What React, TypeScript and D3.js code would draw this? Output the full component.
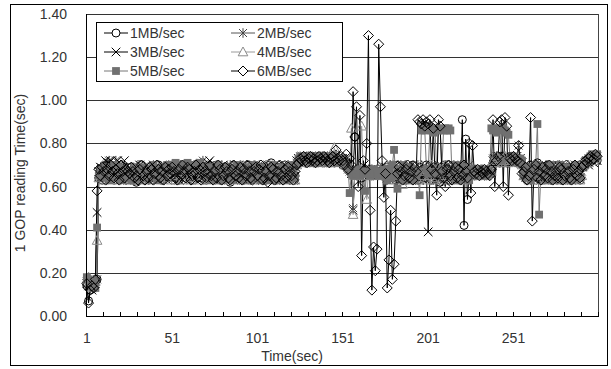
import * as d3 from 'd3'

const W = 611, H = 369
const M = { left: 86, right: 598, top: 14, bottom: 316 }

// time categories 1..300 (x axis)
const times = d3.range(1, 301)
const xLabels = [1, 51, 101, 151, 201, 251]
const yTicks = [0, 0.2, 0.4, 0.6, 0.8, 1.0, 1.2, 1.4]

// GOP reading time per second, in 1/100 sec
const mb1 = [
  14,7,12,15,13,16,17,64,68,63,69,66,67,70,65,68,63,69,67,64,70,66,68,63,67,
  66,69,64,63,62,67,68,70,65,63,68,66,69,67,64,65,68,70,66,63,67,69,65,64,67,
  68,65,69,67,63,66,70,68,64,67,69,65,63,68,66,70,67,64,66,68,63,65,69,67,64,
  67,70,65,63,68,66,69,67,64,62,67,70,66,68,64,69,67,63,65,68,70,66,64,67,65,
  67,64,69,66,63,68,65,70,71,64,67,63,69,66,68,64,70,65,67,63,68,69,65,70,72,
  73,72,74,71,73,72,74,73,71,72,74,73,72,71,73,74,72,73,71,72,74,73,72,71,73,
  70,72,71,69,68,66,67,83,65,66,67,64,66,65,67,66,68,66,65,67,66,68,66,67,65,
  66,69,64,68,65,67,63,70,64,68,66,69,63,67,65,64,70,67,66,63,69,65,68,64,70,
  65,68,63,69,66,67,64,62,69,65,68,66,70,63,67,64,69,68,65,63,91,42,82,54,66,
  67,66,68,65,67,66,68,67,66,65,67,66,68,71,72,73,72,71,74,73,72,71,73,72,74,
  73,72,71,73,72,70,66,69,63,65,70,64,68,66,71,64,69,63,67,65,70,68,63,66,69,
  66,70,67,63,65,68,69,64,63,68,66,70,67,64,63,69,69,70,72,71,73,72,74,73,72,
]
const mb2 = [
  16,15,13,14,15,16,17,66,69,64,67,70,71,72,69,68,64,72,70,68,65,67,69,63,66,
  67,64,69,68,63,65,70,67,64,69,68,63,66,67,70,64,68,65,69,67,63,66,68,70,65,
  69,67,64,63,68,70,65,67,64,69,68,63,66,70,67,64,68,71,72,69,67,64,70,67,65,
  67,64,70,68,63,65,69,64,67,70,66,63,68,65,69,70,67,64,69,68,65,63,67,70,64,
  67,70,65,63,68,64,69,67,65,68,70,64,67,63,69,65,68,64,70,67,65,68,63,71,73,
  74,72,73,71,74,72,73,74,72,71,73,72,74,73,71,72,74,73,72,74,71,73,72,74,72,
  71,73,70,68,67,66,50,66,68,65,67,66,65,67,66,68,66,65,67,66,68,66,67,65,66,
  67,63,66,70,68,64,63,68,65,70,67,63,66,69,68,64,63,67,65,70,66,68,63,65,69,
  67,64,70,63,68,65,69,67,64,63,68,70,65,67,63,66,69,68,64,70,67,63,65,68,70,
  66,67,65,68,66,67,66,68,65,67,66,68,67,73,72,74,73,71,72,74,73,72,71,73,73,
  74,72,73,79,72,71,67,64,69,68,63,65,70,67,64,69,63,68,65,70,67,64,63,68,69,
  65,67,70,63,66,68,69,64,67,63,65,70,68,64,69,67,69,70,71,73,72,74,73,72,74,
]
const mb3 = [
  15,14,13,12,14,15,48,67,69,64,67,72,70,71,72,69,68,64,72,68,65,69,72,67,63,
  69,67,64,63,68,65,70,67,64,63,68,69,65,67,70,64,63,68,66,70,67,64,63,69,67,
  64,68,70,65,63,67,69,64,68,63,70,65,67,69,64,68,63,65,70,67,64,71,72,67,65,
  69,67,64,63,68,70,65,67,64,69,68,63,65,67,70,64,68,63,69,65,67,70,64,63,68,
  65,69,67,63,64,68,70,65,67,64,69,68,63,65,67,70,64,68,65,69,67,63,65,72,73,
  72,74,73,71,72,73,74,72,71,73,74,72,73,71,72,74,73,72,71,73,72,74,71,72,73,
  72,71,70,69,68,66,49,67,65,66,68,66,67,65,66,68,67,66,65,67,66,68,67,65,66,
  69,64,67,63,65,70,68,64,63,67,69,65,68,64,70,63,67,65,69,68,63,64,67,70,65,
  39,65,69,67,63,64,70,68,65,63,68,64,70,67,65,63,69,64,68,66,70,67,63,65,68,
  68,66,67,65,66,68,67,66,68,65,67,66,68,72,73,71,74,72,73,71,74,72,73,72,71,
  73,72,74,72,73,71,65,67,70,64,63,68,65,69,67,64,63,70,65,67,69,64,68,63,65,
  67,70,64,63,68,65,69,67,64,63,68,70,65,67,64,69,70,71,72,70,73,72,71,73,72,
]
const mb4 = [
  17,18,15,13,14,16,35,64,66,69,63,67,68,65,63,67,69,66,63,68,66,70,64,67,63,
  67,65,63,68,66,70,67,63,65,68,66,69,63,67,65,67,70,64,63,68,65,69,67,64,63,
  65,68,63,69,66,67,63,65,70,67,64,63,68,65,69,67,63,65,68,70,66,63,67,65,69,
  68,65,63,67,70,65,68,63,66,69,67,64,63,68,65,70,67,63,65,68,69,66,63,67,65,
  69,67,63,65,68,70,65,63,67,64,69,68,65,63,67,65,70,68,63,66,67,69,63,70,72,
  73,71,74,72,73,74,72,71,73,74,72,73,71,74,72,73,74,72,71,73,78,74,72,73,71,
  72,70,71,69,68,87,47,66,65,67,68,88,66,65,54,67,66,68,65,67,66,68,66,65,67,
  65,69,63,68,66,70,67,63,65,68,61,64,70,63,67,65,69,68,64,63,67,70,65,68,63,
  68,65,70,63,67,64,69,68,63,65,70,67,64,63,68,70,65,67,63,65,69,68,64,63,67,
  66,68,67,65,66,67,68,66,67,65,68,66,67,72,71,74,73,72,71,73,74,72,71,73,72,
  74,72,73,71,72,70,65,69,67,63,65,68,70,64,63,67,69,65,68,63,65,70,67,64,63,
  67,64,69,68,63,65,67,70,65,63,68,64,69,67,63,65,70,71,72,71,73,74,72,73,74,
]
const mb5 = [
  18,17,15,14,16,13,41,65,68,64,67,69,66,63,68,65,70,64,67,69,63,66,68,64,67,
  65,63,67,69,64,67,63,65,69,68,64,63,67,65,70,68,64,63,67,69,65,67,70,69,70,
  69,70,71,70,69,68,70,69,70,71,69,70,68,70,69,70,71,68,69,67,64,69,67,63,64,
  68,64,70,67,65,63,68,64,69,67,63,65,68,70,64,67,63,65,69,68,64,63,67,70,65,
  68,64,63,69,65,67,64,63,68,70,65,67,63,64,69,68,65,63,68,64,70,67,64,71,73,
  74,72,73,74,72,71,73,74,72,73,71,74,72,73,74,72,71,73,72,74,73,72,71,73,72,
  73,71,70,69,57,66,65,67,66,68,65,67,66,58,66,67,65,66,68,67,66,65,67,66,68,
  65,63,68,64,70,77,65,59,68,64,70,63,67,65,69,64,68,63,65,67,56,86,87,86,68,
  66,87,86,85,87,66,86,87,68,86,87,86,87,86,64,68,70,65,63,67,64,69,68,65,63,
  67,66,68,66,65,67,68,66,67,65,67,66,87,86,87,85,87,86,72,87,86,85,84,73,72,
  74,73,72,71,73,72,67,64,69,68,63,65,67,70,89,47,65,69,67,63,65,68,70,64,63,
  68,64,70,63,67,65,69,68,64,63,67,70,65,68,64,69,70,72,71,73,74,75,73,74,75,
]
const mb6 = [
  15,6,12,14,13,17,58,68,65,69,67,63,68,65,70,67,64,68,66,63,70,67,64,68,67,
  66,69,67,64,65,63,68,70,65,63,67,64,69,68,63,66,70,68,64,67,63,69,65,68,66,
  69,67,64,63,68,65,70,67,64,69,68,63,65,67,70,64,68,63,69,67,64,66,70,65,63,
  67,64,70,68,63,65,69,67,64,63,68,70,65,67,64,69,63,68,65,70,67,64,63,67,69,
  65,68,70,63,64,67,62,65,69,68,63,64,67,70,65,63,68,64,69,67,65,63,67,70,71,
  73,72,74,72,71,73,74,72,73,71,72,74,73,72,74,73,72,71,73,74,72,77,73,72,74,
  72,70,75,68,73,70,104,83,97,60,93,28,72,68,80,130,49,12,32,21,31,126,97,72,55,
  66,13,26,49,17,24,44,66,69,67,63,65,68,70,64,67,63,69,67,91,90,89,91,88,90,
  89,91,68,87,66,56,91,88,67,64,60,68,70,65,63,67,69,64,68,63,65,70,67,64,80,
  57,79,67,66,68,65,67,66,68,67,66,65,68,91,60,72,74,90,91,60,92,88,56,73,72,
  74,73,72,79,71,66,67,69,63,65,92,44,68,70,64,67,63,69,65,68,64,70,67,63,65,
  67,64,69,68,63,65,70,67,64,63,68,70,65,67,64,69,70,72,71,73,74,72,73,75,74,
]

type Mk = 'circle' | 'star' | 'x' | 'tri' | 'square' | 'diamond'
const series: { name: string; values: number[]; stroke: string; marker: Mk; mstroke: string; fill: string }[] = [
  { name: '1MB/sec', values: mb1, stroke: '#000', marker: 'circle', mstroke: '#000', fill: 'none' },
  { name: '2MB/sec', values: mb2, stroke: '#555', marker: 'star', mstroke: '#444', fill: 'none' },
  { name: '3MB/sec', values: mb3, stroke: '#000', marker: 'x', mstroke: '#000', fill: 'none' },
  { name: '4MB/sec', values: mb4, stroke: '#9a9a9a', marker: 'tri', mstroke: '#8a8a8a', fill: 'none' },
  { name: '5MB/sec', values: mb5, stroke: '#777', marker: 'square', mstroke: '#707070', fill: '#707070' },
  { name: '6MB/sec', values: mb6, stroke: '#000', marker: 'diamond', mstroke: '#000', fill: 'none' },
]

const FONT = '"Liberation Sans", Arial, sans-serif'

function Marker({ m, x, y, stroke, fill }: { m: Mk; x: number; y: number; stroke: string; fill: string }) {
  const t = `translate(${x},${y})`
  switch (m) {
    case 'circle':
      return <circle cx={x} cy={y} r={4} fill={fill} stroke={stroke} />
    case 'star':
      return <path transform={t} d="M-4,-4L4,4M-4,4L4,-4M0,-4.8L0,4.8" stroke={stroke} fill="none" />
    case 'x':
      return <path transform={t} d="M-4.3,-4.3L4.3,4.3M-4.3,4.3L4.3,-4.3" stroke={stroke} fill="none" />
    case 'tri':
      return <path transform={t} d="M0,-5L4.8,3.8L-4.8,3.8Z" stroke={stroke} fill={fill} />
    case 'square':
      return <rect x={x - 3.9} y={y - 3.9} width={7.8} height={7.8} fill={fill} stroke="none" />
    default:
      return <path transform={t} d="M0,-5L5,0L0,5L-5,0Z" stroke={stroke} fill={fill} />
  }
}

export default function App() {
  const band = d3.scaleBand<number>().domain(times).range([M.left, M.right])
  const bw = band.bandwidth()
  const x = (t: number) => (band(t) ?? 0) + bw / 2
  const y = d3.scaleLinear().domain([0, 1.4]).range([M.bottom, M.top])

  const line = d3.line<number>()
    .x((_, i) => x(times[i]))
    .y((v) => y(v / 100))

  const minorTicks = times.filter((t) => (t - 1) % 10 === 0).map((t) => band(t) ?? 0).concat([M.right])

  const legendRows = [[0, 1], [2, 3], [4, 5]]

  return (
    <svg width={W} height={H} style={{ position: 'absolute', left: 0, top: 0, background: '#fff' }} fontFamily={FONT}>
      <rect x={10.5} y={4.5} width={597} height={361} fill="#fff" stroke="#000" />

      {/* gridlines */}
      {yTicks.slice(1).map((t) => (
        <line key={t} x1={M.left} x2={M.right} y1={Math.round(y(t)) + 0.5} y2={Math.round(y(t)) + 0.5} stroke="#333" />
      ))}
      <line x1={M.right + 0.5} x2={M.right + 0.5} y1={M.top} y2={M.bottom} stroke="#444" />

      {/* series */}
      {series.map((s) => (
        <path key={s.name} d={line(s.values) ?? ''} fill="none" stroke={s.stroke} strokeWidth={1} />
      ))}
      {series.map((s) => (
        <g key={s.name + 'm'}>
          {s.values.map((v, i) => (
            <Marker key={i} m={s.marker} x={x(times[i])} y={y(v / 100)} stroke={s.mstroke} fill={s.fill} />
          ))}
        </g>
      ))}

      {/* axes */}
      <line x1={M.left + 0.5} x2={M.left + 0.5} y1={M.top} y2={M.bottom + 1} stroke="#000" />
      <line x1={M.left} x2={M.right + 1} y1={M.bottom + 0.5} y2={M.bottom + 0.5} stroke="#000" />
      {minorTicks.map((px, i) => (
        <line key={i} x1={Math.round(px) + 0.5} x2={Math.round(px) + 0.5} y1={M.bottom} y2={M.bottom - 4} stroke="#000" />
      ))}
      {yTicks.map((t) => (
        <text key={t} x={67} y={y(t) + 5} textAnchor="end" fontSize={14} fill="#333">{t.toFixed(2)}</text>
      ))}
      {xLabels.map((t) => (
        <text key={t} x={x(t)} y={343} textAnchor="middle" fontSize={14} fill="#333">{t}</text>
      ))}
      <text x={292} y={361} textAnchor="middle" fontSize={14} fill="#333">Time(sec)</text>
      <text transform={`translate(25,${(M.top + M.bottom) / 2 + 8}) rotate(-90)`} textAnchor="middle" fontSize={14} fill="#333">
        1 GOP reading Time(sec)
      </text>

      {/* legend */}
      <rect x={96.5} y={22.5} width={246} height={59} fill="#fff" stroke="#000" />
      {legendRows.map((row, r) =>
        row.map((si, c) => {
          const s = series[si]
          const cy = 33 + r * 19
          const x0 = c === 0 ? 104 : 231
          return (
            <g key={s.name}>
              <line x1={x0} x2={x0 + 24} y1={cy} y2={cy} stroke={s.stroke} />
              <Marker m={s.marker} x={x0 + 12} y={cy} stroke={s.mstroke} fill={s.marker === 'square' ? s.fill : '#fff'} />
              <text x={x0 + 26} y={cy + 5} fontSize={14} fill="#333">{s.name}</text>
            </g>
          )
        })
      )}
    </svg>
  )
}
